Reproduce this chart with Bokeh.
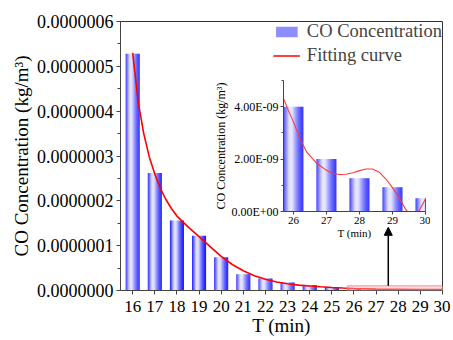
from bokeh.plotting import figure
from bokeh.models import (ColumnDataSource, Range1d, FixedTicker, SingleIntervalTicker,
                          NumeralTickFormatter, CustomJSTickFormatter, Legend, LegendItem,
                          BoxAnnotation, Arrow, NormalHead)
from bokeh.embed import file_html
from bokeh.resources import INLINE

# ---------------- data ----------------
T = [16, 17, 18, 19, 20, 21, 22, 23, 24, 25, 26, 27, 28, 29, 30]
co_conc = [5.28e-7, 2.62e-7, 1.56e-7, 1.22e-7, 0.74e-7, 0.36e-7, 0.27e-7, 0.18e-7,
           0.12e-7, 0.08e-7, 4.0e-9, 2.0e-9, 1.27e-9, 0.93e-9, 0.51e-9]

fit_T = [16.0, 16.25, 16.5, 16.75, 17.0, 17.25, 17.5, 17.75, 18.0, 18.5, 19.0, 19.5,
         20.0, 20.5, 21.0, 21.5, 22.0, 22.5, 23.0, 23.5, 24.0, 24.5, 25.0, 25.5, 26.0,
         27.0, 28.0, 29.0, 30.0]
fit_main = [5.30e-7, 4.20e-7, 3.50e-7, 2.98e-7, 2.60e-7, 2.28e-7, 2.03e-7, 1.83e-7,
            1.66e-7, 1.42e-7, 1.20e-7, 0.98e-7, 0.76e-7, 0.58e-7, 0.44e-7, 0.33e-7,
            0.25e-7, 0.19e-7, 0.15e-7, 0.12e-7, 0.10e-7, 0.083e-7, 0.068e-7, 0.055e-7,
            0.045e-7, 0.03e-7, 0.025e-7, 0.02e-7, 0.02e-7]

inset_fit_T = [25.7, 25.85, 26.0, 26.2, 26.4, 26.7, 27.0, 27.2, 27.4, 27.6, 27.8, 28.0,
               28.2, 28.4, 28.6, 28.8, 29.0, 29.2, 29.4, 29.6, 29.8, 30.0]
inset_fit = [4.31e-9, 3.85e-9, 3.42e-9, 2.78e-9, 2.28e-9, 1.85e-9, 1.57e-9, 1.45e-9,
             1.41e-9, 1.42e-9, 1.48e-9, 1.56e-9, 1.62e-9, 1.62e-9, 1.50e-9, 1.24e-9,
             0.91e-9, 0.53e-9, 0.08e-9, -0.20e-9, 0.02e-9, 0.48e-9]

x_ticks = list(range(16, 31))
inset_x_ticks = [26, 27, 28, 29, 30]
inset_y_ticks = [0, 2e-9, 4e-9]
inset_y_minor = [1e-9, 3e-9, 5e-9]

main_x_range = (15.45, 30.0)
main_y_range = (0, 6e-7)
inset_x_range = (25.7, 30.0)
inset_y_range = (0, 5e-9)
zoom_box_y = (-0.045e-7, 0.104e-7)
arrow_x = 27.55
arrow_y = (0.104e-7, 1.41e-7)

FONT = "Liberation Serif"


def gradient_strips(xs, tops, width, n):
    """Split each bar into n thin strips with a blue-white-blue gradient."""
    sx, st, sc = [], [], []
    for x, top in zip(xs, tops):
        for i in range(n):
            t = (i + 0.5) / n
            if t < 0.3:
                w = t / 0.3
            elif t < 0.45:
                w = 1.0
            else:
                w = ((1 - t) / 0.55) ** 1.4
            w = 0.9 * w
            r = int(25 + (245 - 25) * w)
            sx.append(x - width / 2 + t * width)
            st.append(top)
            sc.append("#%02x%02xff" % (r, r))
    return ColumnDataSource(dict(x=sx, top=st, color=sc))


def style_axes(fig, tick_size, label_size):
    for ax in list(fig.xaxis) + list(fig.yaxis):
        ax.major_label_text_font = FONT
        ax.axis_label_text_font = FONT
        ax.major_label_text_font_size = tick_size
        ax.axis_label_text_font_size = label_size
        ax.axis_label_text_font_style = "normal"
        ax.major_label_text_color = "black"
        ax.axis_label_text_color = "black"
        ax.axis_line_color = "#444444"
        ax.major_tick_line_color = "#444444"
        ax.minor_tick_line_color = "#444444"


# ---------------- main figure ----------------
p = figure(width=450, height=338, output_backend="svg", toolbar_location=None,
           x_range=Range1d(*main_x_range), y_range=Range1d(*main_y_range),
           min_border_left=120, min_border_right=8, min_border_top=21,
           min_border_bottom=45)
p.grid.visible = False
p.outline_line_color = "#333333"
p.background_fill_color = "white"

N_MAIN = 14
bar_w = 0.63
bars_src = gradient_strips(T, co_conc, bar_w, N_MAIN)
bars_r = p.vbar(x="x", top="top", bottom=0, width=bar_w / N_MAIN * 1.15,
                fill_color="color", line_color=None, source=bars_src)
curve_r = p.line(fit_T, fit_main, line_color="#ff0000", line_width=1.6)

p.add_layout(BoxAnnotation(left=inset_x_range[0], right=inset_x_range[1],
                           bottom=zoom_box_y[0], top=zoom_box_y[1],
                           fill_color="#ffb3b3", fill_alpha=0.45,
                           line_color="#f08a8a", line_width=1, line_alpha=0.9))
p.add_layout(Arrow(end=NormalHead(size=8, fill_color="black", line_color="black"),
                   x_start=arrow_x, y_start=arrow_y[0], x_end=arrow_x, y_end=arrow_y[1],
                   line_color="black", line_width=1.5))

p.yaxis.ticker = SingleIntervalTicker(interval=1e-7, num_minor_ticks=2)
p.yaxis.formatter = NumeralTickFormatter(format="0.0000000")
p.xaxis.ticker = FixedTicker(ticks=x_ticks, minor_ticks=[])
p.yaxis.axis_label = "CO Concentration (kg/m³)"
p.xaxis.axis_label = "T (min)"
style_axes(p, "17px", "19px")
p.yaxis.major_label_text_font_size = "18px"
p.yaxis.major_tick_out = 4
p.yaxis.major_tick_in = 0
p.yaxis.minor_tick_out = 3
p.yaxis.minor_tick_in = 0
p.xaxis.major_tick_out = 4
p.xaxis.major_tick_in = 0
p.yaxis.major_label_standoff = 3
p.xaxis.major_label_standoff = 6
p.yaxis.axis_label_standoff = 2
p.xaxis.axis_label_standoff = 0

mid_idx = N_MAIN // 6
legend = Legend(items=[LegendItem(label="CO Concentration", renderers=[bars_r], index=mid_idx),
                       LegendItem(label="Fitting curve", renderers=[curve_r])],
                location="top_right", border_line_color=None, background_fill_alpha=0,
                label_text_font=FONT, label_text_font_size="18.5px",
                glyph_width=27, glyph_height=13, label_height=21, spacing=3,
                padding=7, margin=0, label_standoff=7)
p.add_layout(legend)
p.styles = {"position": "absolute", "left": "0px", "top": "0px"}

# ---------------- inset figure ----------------
q = figure(frame_width=142, frame_height=131, output_backend="svg", toolbar_location=None,
           x_range=Range1d(*inset_x_range), y_range=Range1d(*inset_y_range),
           min_border_left=70, min_border_right=5, min_border_top=5, min_border_bottom=30)
q.grid.visible = False
q.outline_line_color = None
q.background_fill_alpha = 0
q.border_fill_alpha = 0

N_IN = 20
in_w = 0.6
in_T = [t for t in T if t >= inset_x_ticks[0]]
in_v = [v for t, v in zip(T, co_conc) if t >= inset_x_ticks[0]]
q.vbar(x="x", top="top", bottom=0, width=in_w / N_IN * 1.15, fill_color="color",
       line_color=None, source=gradient_strips(in_T, in_v, in_w, N_IN))
q.line(inset_fit_T, inset_fit, line_color="#ff3838", line_width=1.1)

q.xaxis.ticker = FixedTicker(ticks=inset_x_ticks, minor_ticks=[])
q.yaxis.ticker = FixedTicker(ticks=inset_y_ticks, minor_ticks=inset_y_minor)
q.yaxis.formatter = CustomJSTickFormatter(code="""
    const s = tick.toExponential(2).toUpperCase();
    const parts = s.split("E");
    const sign = parts[1][0];
    let d = parts[1].slice(1);
    while (d.length < 2) { d = "0" + d; }
    return parts[0] + "E" + sign + d;
""")
q.yaxis.axis_label = "CO Concentration (kg/m³)"
q.xaxis.axis_label = "T (min)"
style_axes(q, "11px", "12px")
q.yaxis.major_label_text_font_size = "12px"
q.xaxis.axis_label_text_font_size = "11px"
q.yaxis.major_tick_out = 3
q.yaxis.major_tick_in = 0
q.yaxis.minor_tick_out = 2
q.yaxis.minor_tick_in = 0
q.xaxis.major_tick_out = 3
q.xaxis.major_tick_in = 0
q.yaxis.major_label_standoff = 2
q.xaxis.major_label_standoff = 2
q.yaxis.axis_label_standoff = 0
q.xaxis.axis_label_standoff = 0
q.styles = {"position": "absolute", "left": "211px", "top": "75px"}

open("out.html", "w").write(file_html([p, q], INLINE))
